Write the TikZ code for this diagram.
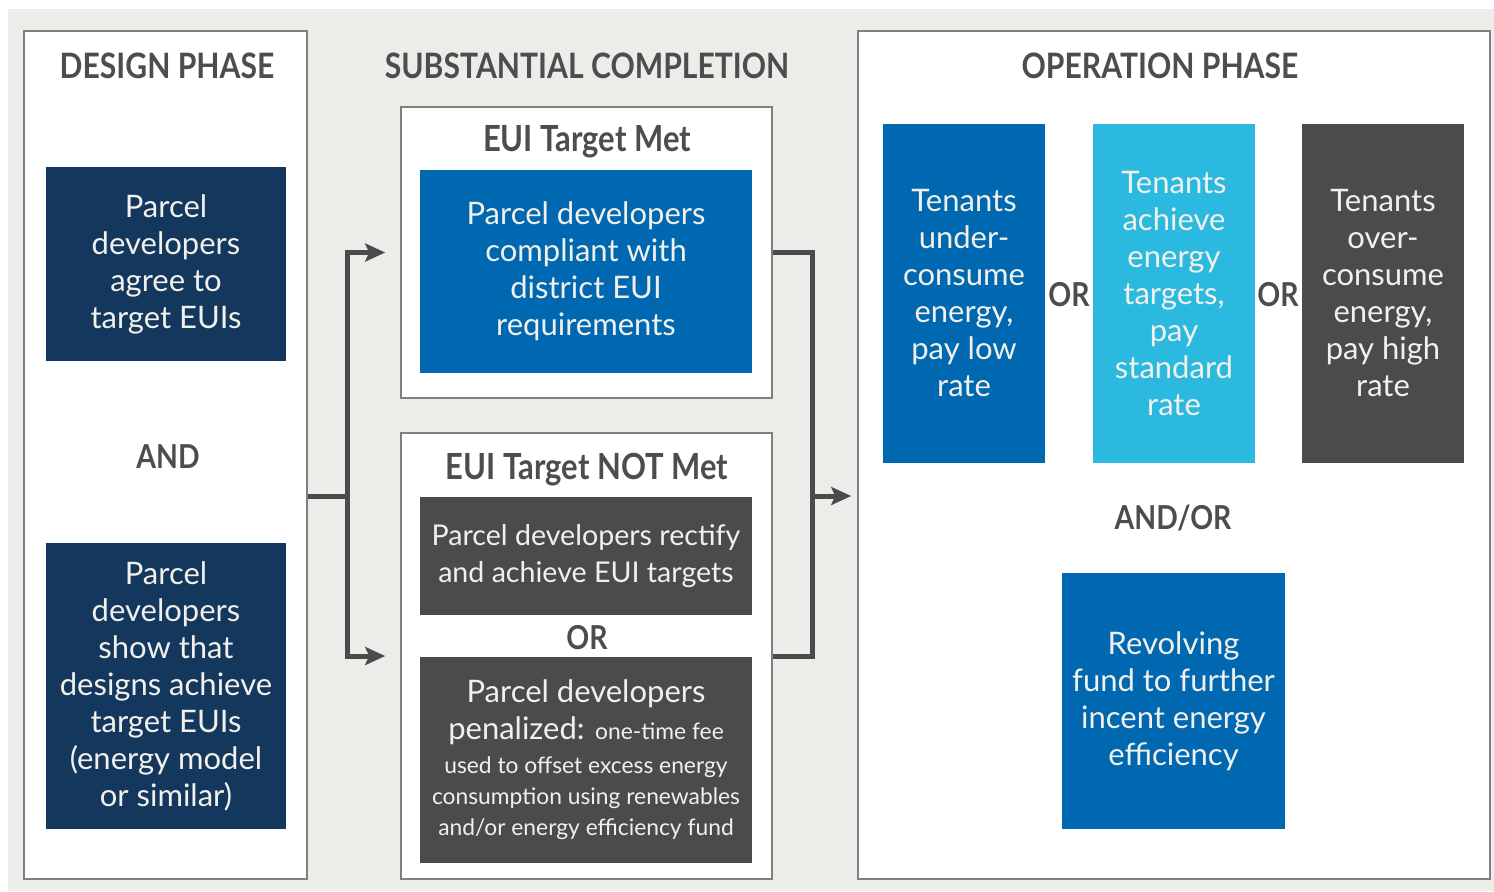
\documentclass[tikz,border=0pt]{standalone}
\usepackage{fontspec}
\setmainfont{Lato}
\newfontfamily\headfont[FakeStretch=0.86]{Lato}
\usetikzlibrary{arrows.meta,calc}

\definecolor{bggray}{HTML}{EDECE8}
\definecolor{framegray}{HTML}{808080}
\definecolor{headgray}{HTML}{4D4D4F}
\definecolor{linkgray}{HTML}{4B4B4D}
\definecolor{navy}{HTML}{14375E}
\definecolor{midblue}{HTML}{0067B1}
\definecolor{skyblue}{HTML}{2CB9E0}
\definecolor{slate}{HTML}{4B4B4D}
\definecolor{boxtext}{HTML}{F2F0EB}

\begin{document}
\begin{tikzpicture}[x=0.5pt, y=-0.5pt,
    frame/.style = {draw=framegray, line width=0.8pt, fill=white, inner sep=0pt},
    box/.style = {inner sep=2pt, align=center, text=boxtext,
      font=\fontsize{15.5}{18.5}\selectfont},
    heading/.style = {text=headgray, font=\headfont\bfseries\fontsize{17.5}{20}\selectfont},
    subhead/.style = {text=headgray, font=\headfont\bfseries\fontsize{16.5}{20}\selectfont},
    target/.style = {subhead, font=\headfont\bfseries\fontsize{18}{20}\selectfont},
    link/.style = {draw=linkgray, line width=2.5pt},
    > = {Stealth[length=10pt, width=9pt, inset=2pt]}]

  \useasboundingbox (0,0) rectangle (1494,891);
  \fill[bggray] (8,9) rectangle (1494,891);

  % the three phases
  \node[frame, minimum width=141.5pt, minimum height=424pt] (design) at (165.5,455) {};
  \node[frame, minimum width=185.5pt, minimum height=145.5pt] (met) at (586.5,252.5) {};
  \node[frame, minimum width=185.5pt, minimum height=223pt] (notmet) at (586.5,656) {};
  \node[frame, minimum width=316pt, minimum height=424pt] (op) at (1174,455) {};

  \node[heading] (designtitle) at (167,66) {DESIGN PHASE};
  \node[heading] (subtitle) at (587,66) {SUBSTANTIAL COMPLETION};
  \node[heading] (optitle) at (1160,66) {OPERATION PHASE};

  % design phase
  \node[box, fill=navy, minimum width=120pt, minimum height=97pt] (agree) at (166,264)
    {Parcel\\developers\\agree to\\target EUIs};
  \node[subhead] (and) at (168,457) {AND};
  \node[box, fill=navy, minimum width=120pt, minimum height=143pt] (show) at (166,686)
    {Parcel\\developers\\show that\\designs achieve\\target EUIs\\(energy model\\or similar)};

  % substantial completion
  \node[target] (mettitle) at (587,142) {EUI Target Met};
  \node[box, fill=midblue, minimum width=166pt, minimum height=101.5pt] (comply) at (586,271.5)
    {Parcel developers\\compliant with\\district EUI\\requirements};
  \node[target] (notmettitle) at (587,470) {EUI Target NOT Met};
  \node[box, fill=slate, minimum width=166pt, minimum height=59pt,
    font=\fontsize{14.3}{18.5}\selectfont] (rectify) at (586,556)
    {Parcel developers rectify\\and achieve EUI targets};
  \node[subhead] (or1) at (587,638) {OR};
  \node[box, fill=slate, minimum width=166pt, minimum height=103pt] (penalty) at (586,760)
    {Parcel developers\\penalized: {\fontsize{11.4}{16}\selectfont one-time fee}\\[-1.5pt]
     {\fontsize{11.4}{16}\selectfont used to offset excess energy}\\[-3pt]
     {\fontsize{11.4}{16}\selectfont consumption using renewables}\\[-3pt]
     {\fontsize{11.4}{16}\selectfont and/or energy efficiency fund}};

  % operation phase
  \node[box, fill=midblue, minimum width=81pt, minimum height=169.5pt] (under) at (964,293.5)
    {Tenants\\under-\\consume\\energy,\\pay low\\rate};
  \node[box, fill=skyblue, minimum width=81pt, minimum height=169.5pt] (standard) at (1174,293.5)
    {Tenants\\achieve\\energy\\targets,\\pay\\standard\\rate};
  \node[box, fill=slate, minimum width=81pt, minimum height=169.5pt] (over) at (1383,293.5)
    {Tenants\\over-\\consume\\energy,\\pay high\\rate};
  \node[subhead] (or2) at (1069,295) {OR};
  \node[subhead] (or3) at (1278,295) {OR};
  \node[subhead] (andor) at (1173,518) {AND/OR};
  \node[box, fill=midblue, minimum width=111.5pt, minimum height=128pt] (fund) at (1173.5,701)
    {Revolving\\fund to further\\incent energy\\efficiency};

  % connectors
  \coordinate (split) at (347,496);
  \coordinate (join) at (812,496);
  \draw[link] (split -| design.east) -- (split);
  \draw[link, ->, shorten >=7.5pt] (split) |- (met.west);
  \draw[link, ->, shorten >=7.5pt] (split) |- (notmet.west);
  \draw[link] (met.east) -| (join) |- (notmet.east);
  \draw[link, ->, shorten >=3pt] (join) -- (join -| op.west);
\end{tikzpicture}
\end{document}
